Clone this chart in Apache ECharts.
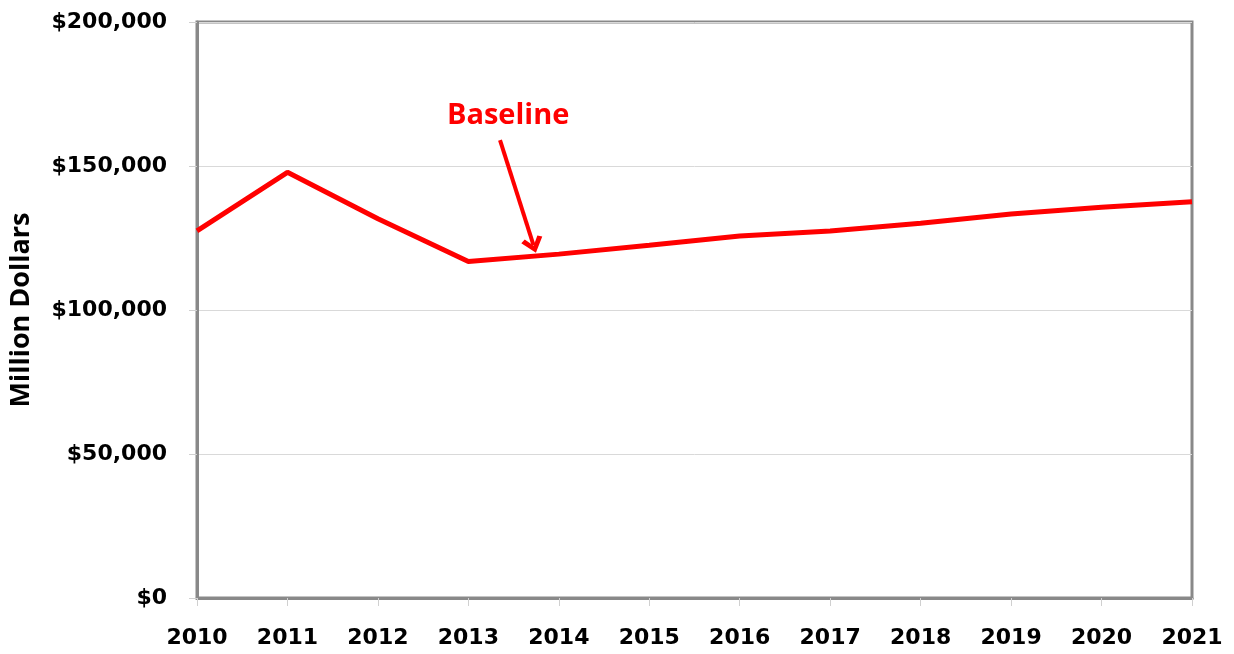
<!DOCTYPE html>
<html>
<head>
<meta charset="utf-8">
<script src="https://cdn.jsdelivr.net/npm/echarts@6/dist/echarts.min.js"></script>
<style>html,body{margin:0;padding:0;background:#fff}#c{width:1234px;height:654px}</style>
</head>
<body>
<div id="c"></div>
<script>
const years = [2010, 2011, 2012, 2013, 2014, 2015, 2016, 2017, 2018, 2019, 2020, 2021];
const baseline = [127500, 147800, 131700, 116800, 119400, 122500, 125700, 127400, 130100, 133300, 135700, 137600];
const yTicks = [0, 50000, 100000, 150000, 200000];
const arrowFrom = [2013.35, 159000];
const arrowTo = [2013.72, 122500];
const labelAt = [2013.44, 167500];
const seriesName = 'Baseline';
const yTitle = 'Million Dollars';

const chart = echarts.init(document.getElementById('c'));
const axisFont = { fontFamily: 'DejaVu Sans', fontWeight: 'bold', fontSize: 22, color: '#000' };
chart.setOption({
  animation: false,
  grid: { left: 197, right: 42, top: 22, bottom: 56, containLabel: false, outerBoundsMode: 'none', show: true, borderColor: '#898989', borderWidth: 3, backgroundColor: 'transparent' },
  xAxis: {
    type: 'value', min: years[0], max: years[years.length - 1], interval: 1,
    axisLine: { show: true, lineStyle: { color: '#898989', width: 3 } },
    axisTick: { show: true, length: 8, lineStyle: { color: '#d0d0d0', width: 1 } },
    splitLine: { show: false },
    axisLabel: Object.assign({ margin: 29, formatter: v => String(v) }, axisFont)
  },
  yAxis: {
    type: 'value', min: yTicks[0], max: yTicks[yTicks.length - 1], interval: yTicks[1] - yTicks[0],
    name: yTitle, nameLocation: 'middle', nameGap: 162,
    nameTextStyle: { fontFamily: 'Open Sans', fontWeight: 'bold', fontSize: 27, color: '#000' },
    axisLine: { show: true, lineStyle: { color: '#898989', width: 3 } },
    axisTick: { show: true, length: 8, lineStyle: { color: '#d0d0d0', width: 1 } },
    splitLine: { show: true, lineStyle: { color: '#d9d9d9', width: 1 } },
    axisLabel: Object.assign({ margin: 30, formatter: v => '$' + v.toLocaleString('en-US') }, axisFont)
  },
  series: [{
    name: seriesName, type: 'line', showSymbol: false, symbol: 'none',
    data: years.map((y, i) => [y, baseline[i]]),
    lineStyle: { color: '#ff0000', width: 5 },
    markLine: {
      silent: true, animation: false,
      symbol: ['none', 'path://M5,0 L10,8 L8,9.4 L5,4.4 L2,9.4 L0,8 Z'],
      symbolSize: [22, 16],
      lineStyle: { color: '#ff0000', width: 4, type: 'solid' },
      label: { show: false },
      data: [[{ coord: arrowFrom }, { coord: arrowTo }]]
    },
    markPoint: {
      silent: true, symbol: 'circle', symbolSize: 0,
      label: { show: true, formatter: seriesName, fontFamily: 'Open Sans', fontWeight: 'bold', fontSize: 29, color: '#ff0000', position: 'inside' },
      data: [{ coord: labelAt }]
    }
  }]
});
</script>
</body>
</html>
